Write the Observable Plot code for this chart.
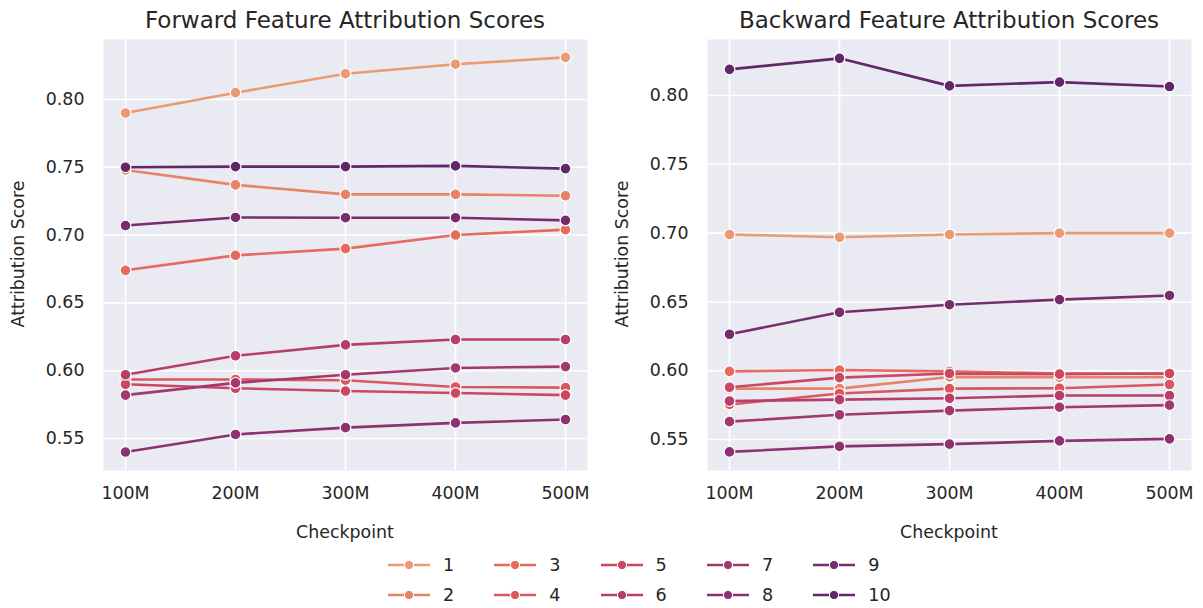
<!DOCTYPE html>
<html>
<head>
<meta charset="utf-8">
<script src="https://cdn.jsdelivr.net/npm/d3@7"></script>
<script src="https://cdn.jsdelivr.net/npm/@observablehq/plot@0.6"></script>
<style>
  body { margin: 0; background: #fff; font-family: "DejaVu Sans", sans-serif; color: #262626; }
  #fig { position: relative; width: 1203px; height: 608px; overflow: hidden; background: #fff; }
  #fig > * { position: absolute; }
  .title { font-size: 23px; transform: translate(-50%, -50%); white-space: nowrap; }
  .xlabel { font-size: 17.4px; transform: translate(-50%, -50%); white-space: nowrap; }
  .ylabel { font-size: 17.4px; transform: translate(-50%, -50%) rotate(-90deg); white-space: nowrap; }
  .legend-item { display: flex; align-items: center; transform: translateY(-50%); font-size: 17.6px; white-space: nowrap; }
  .legend-item svg { margin-right: 13px; }
</style>
</head>
<body>
<div id="fig"></div>
<script>
// Checkpoints along the x axis and the ten feature ids (legend entries)
const checkpoints = ["100M", "200M", "300M", "400M", "500M"];
const features = ["1", "2", "3", "4", "5", "6", "7", "8", "9", "10"];
const yTicks = [0.55, 0.60, 0.65, 0.70, 0.75, 0.80];

// Forward attribution scores, one row per feature, one column per checkpoint
const forwardScores = [
  [0.790, 0.805, 0.819, 0.826, 0.831],
  [0.748, 0.737, 0.730, 0.730, 0.729],
  [0.674, 0.685, 0.690, 0.700, 0.704],
  [0.5935, 0.5935, 0.593, 0.588, 0.5875],
  [0.590, 0.587, 0.585, 0.5835, 0.582],
  [0.597, 0.611, 0.619, 0.623, 0.623],
  [0.582, 0.591, 0.597, 0.602, 0.603],
  [0.540, 0.553, 0.558, 0.5615, 0.564],
  [0.707, 0.713, 0.7128, 0.7128, 0.7108],
  [0.750, 0.7505, 0.7505, 0.751, 0.749]
];

// Backward attribution scores, same layout
const backwardScores = [
  [0.699, 0.697, 0.699, 0.700, 0.700],
  [0.587, 0.587, 0.5955, 0.5953, 0.5953],
  [0.5995, 0.6005, 0.5995, 0.598, 0.5977],
  [0.5755, 0.5835, 0.587, 0.5873, 0.590],
  [0.588, 0.595, 0.598, 0.5975, 0.598],
  [0.578, 0.579, 0.580, 0.582, 0.582],
  [0.563, 0.568, 0.571, 0.5735, 0.575],
  [0.541, 0.545, 0.5467, 0.549, 0.5505],
  [0.6265, 0.6425, 0.648, 0.6517, 0.6547],
  [0.819, 0.827, 0.807, 0.8097, 0.8065]
];

// "flare"-style sequential palette, light orange to deep purple
const palette = ["#eb9a73", "#e78367", "#e46b5d", "#d9585f", "#cb4863",
                 "#b73e69", "#a2386e", "#8c3271", "#762d6e", "#602869"];

const fig = document.getElementById("fig");

function panel(scores, opts) {
  const rows = features.flatMap((f, i) =>
    checkpoints.map((c, j) => ({feature: f, checkpoint: c, score: scores[i][j]})));

  const marks = [
    Plot.frame({fill: "#eaeaf2", stroke: null}),
    Plot.gridY(yTicks, {stroke: "white", strokeOpacity: 1, strokeWidth: 1.6}),
    Plot.gridX({stroke: "white", strokeOpacity: 1, strokeWidth: 1.6}),
    Plot.axisY(yTicks, {tickSize: 0, tickPadding: 19, tickFormat: d3.format(".2f"), label: null}),
    Plot.axisX({tickSize: 0, tickPadding: 16, label: null})
  ];
  // each feature draws its line, then its markers, so later features sit on top
  for (const f of features) {
    const d = rows.filter(r => r.feature === f);
    marks.push(Plot.line(d, {x: "checkpoint", y: "score", stroke: "feature", strokeWidth: 2.6}));
    marks.push(Plot.dot(d, {x: "checkpoint", y: "score", fill: "feature", stroke: "white", strokeWidth: 1.2, r: 5.4}));
  }

  const svg = Plot.plot({
    width: 601,
    height: 545,
    marginTop: 39,
    marginBottom: 75,
    marginLeft: opts.marginLeft,
    marginRight: opts.marginRight,
    x: {type: "point", domain: checkpoints, padding: 0.188, label: null},
    y: {domain: opts.yDomain, label: null},
    color: {domain: features, range: palette},
    style: {fontFamily: "DejaVu Sans", fontSize: "17.4px", color: "#262626", background: "transparent", overflow: "visible"},
    marks
  });
  svg.style.left = opts.left + "px";
  svg.style.top = "0px";
  fig.appendChild(svg);

  const cx = opts.left + opts.marginLeft + (601 - opts.marginLeft - opts.marginRight) / 2;
  const t = document.createElement("div");
  t.className = "title";
  t.textContent = opts.title;
  t.style.left = cx + "px";
  t.style.top = "20px";
  fig.appendChild(t);

  const xl = document.createElement("div");
  xl.className = "xlabel";
  xl.textContent = "Checkpoint";
  xl.style.left = cx + "px";
  xl.style.top = "532px";
  fig.appendChild(xl);

  const yl = document.createElement("div");
  yl.className = "ylabel";
  yl.textContent = "Attribution Score";
  yl.style.left = (opts.left + opts.marginLeft - 85) + "px";
  yl.style.top = "254px";
  fig.appendChild(yl);
}

panel(forwardScores, {
  title: "Forward Feature Attribution Scores",
  left: 0, marginLeft: 103, marginRight: 14,
  yDomain: [0.5264, 0.8442]
});
panel(backwardScores, {
  title: "Backward Feature Attribution Scores",
  left: 602, marginLeft: 105, marginRight: 12,
  yDomain: [0.5275, 0.8407]
});

// legend: five columns, two rows
features.forEach((f, i) => {
  const col = Math.floor(i / 2), row = i % 2;
  const item = document.createElement("div");
  item.className = "legend-item";
  item.style.left = (388 + col * 106.3) + "px";
  item.style.top = (565 + row * 30) + "px";
  const color = palette[i];
  item.innerHTML =
    `<svg width="42" height="14"><line x1="0" y1="7" x2="42" y2="7" stroke="${color}" stroke-width="2.6"/>` +
    `<circle cx="21" cy="7" r="4.6" fill="${color}" stroke="white" stroke-width="1"/></svg>`;
  const label = document.createElement("span");
  label.textContent = f;
  item.appendChild(label);
  fig.appendChild(item);
});
</script>
</body>
</html>
